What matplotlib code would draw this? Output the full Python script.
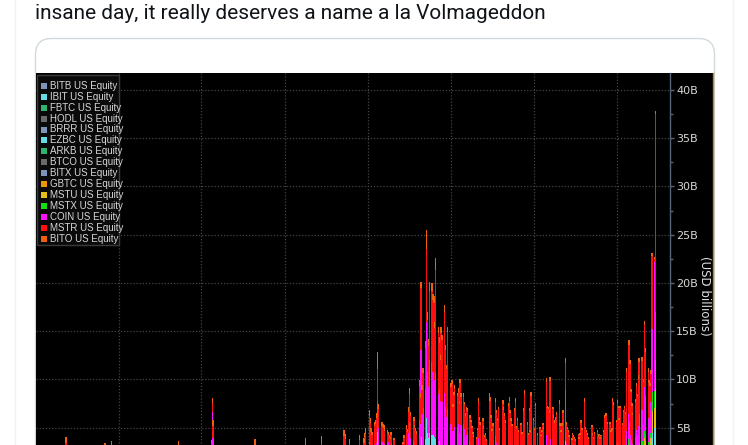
import numpy as np
import pandas as pd
import matplotlib
matplotlib.use("Agg")
import matplotlib.pyplot as plt
import matplotlib.dates as mdates
from matplotlib.patches import Rectangle, FancyBboxPatch
import datetime as dt

# ---------------- data (USD billions, daily traded value) ----------------
legend_names = ["BITB US Equity", "IBIT US Equity", "FBTC US Equity", "HODL US Equity",
                "BRRR US Equity", "EZBC US Equity", "ARKB US Equity", "BTCO US Equity",
                "BITX US Equity", "GBTC US Equity", "MSTU US Equity", "MSTX US Equity",
                "COIN US Equity", "MSTR US Equity", "BITO US Equity"]
legend_colors = ["#7f94bd", "#66dbe8", "#2fb470", "#6a6a6a",
                 "#7f94bd", "#66dbe8", "#2fb470", "#6a6a6a",
                 "#7f94bd", "#f0940c", "#e6c010", "#10e010",
                 "#ff10ff", "#ff1010", "#f0600c"]

# 2023: only the days that rise into the visible part of the chart
dates_2023 = ["2023-02-02", "2023-03-17", "2023-03-24", "2023-06-06", "2023-07-12",
              "2023-07-13", "2023-07-14", "2023-08-29", "2023-10-24", "2023-11-10",
              "2023-12-05", "2023-12-07", "2023-12-11", "2023-12-22", "2023-12-27",
              "2023-12-28", "2023-12-29"]
total_2023 = [4.0, 3.4, 3.6, 3.6, 3.7, 8.1, 5.8, 3.8, 3.9, 4.1, 4.8, 4.4, 3.8, 4.2, 3.9, 4.5, 5.0]
etf_2023 = [1.0, 0.9, 0.9, 0.6, 0.5, 0.8, 0.7, 1.5, 1.0, 1.0, 1.1, 1.0, 1.0, 0.9, 0.8, 0.9, 0.9]
coin_2023 = [1.8, 1.4, 1.5, 2.2, 1.6, 5.8, 3.2, 1.2, 1.0, 1.2, 1.8, 1.6, 1.3, 1.6, 1.5, 1.8, 2.0]
bito_2023 = [0.6, 0.5, 0.5, 0.4, 0.4, 0.5, 0.6, 0.6, 0.8, 0.8, 0.7, 0.6, 0.5, 0.5, 0.5, 0.5, 0.6]

# 2024: every trading day, Jan 2 .. Nov 12
holidays_2024 = ["2024-01-15", "2024-02-19", "2024-03-29", "2024-05-27",
                 "2024-06-19", "2024-07-04", "2024-09-02"]
total_2024 = [
    6.8, 6.0, 5.0, 4.6, 5.6, 5.8, 6.5, 12.9, 7.5, 5.6, 5.4, 5.3, 5.0, 4.8, 4.6, 4.2, 4.0, 4.6, 3.9, 3.2, 3.0,
    3.0, 2.8, 2.9, 3.1, 3.2, 3.5, 4.2, 5.3, 4.9, 7.1, 9.1, 6.6, 6.1, 5.3, 5.0, 4.7, 9.9, 8.6, 20.1, 9.4,
    11.2, 14.0, 25.5, 17.0, 14.2, 20.1, 20.0, 18.9, 18.7, 16.0, 22.6, 15.4, 14.4, 12.5, 15.4, 14.6, 17.7, 13.6, 11.5, 15.4,
    9.6, 9.9, 7.5, 8.7, 9.4, 8.6, 9.1, 7.8, 10.0, 8.6, 8.6, 7.7, 6.5, 7.1, 7.0, 6.3, 5.8, 5.2, 4.6, 4.2, 4.0, 5.0,
    8.1, 6.1, 5.6, 6.0, 5.2, 4.2, 4.5, 3.8, 8.6, 8.2, 6.3, 4.9, 5.5, 8.1, 6.8, 6.0, 7.2, 5.0, 7.9, 7.1, 6.5, 5.8,
    7.6, 8.2, 6.8, 6.0, 5.4, 7.0, 8.1, 5.2, 6.0, 4.8, 5.5, 4.6, 7.0, 8.9, 5.6, 4.5, 7.0, 4.8, 8.7,
    6.0, 5.0, 7.6, 4.5, 5.1, 4.3, 4.8, 5.5, 5.1, 10.2, 7.3, 7.2, 6.8, 10.3, 7.2, 6.3, 5.8, 6.1, 6.6, 7.9, 5.5, 4.8,
    5.5, 6.8, 12.2, 5.6, 5.1, 4.8, 4.2, 3.9, 4.5, 4.2, 4.0, 3.8, 4.4, 4.0, 4.5, 5.8, 5.0, 8.1, 5.1, 4.8, 4.5, 4.0,
    5.3, 4.5, 4.0, 4.6, 4.8, 4.2, 4.4, 4.0, 4.3, 4.8, 6.3, 6.5, 6.5, 5.6, 5.6, 4.8, 5.0, 8.1, 7.7, 5.8,
    7.9, 7.3, 6.0, 7.3, 5.5, 6.8, 7.3, 6.6, 11.2, 14.1, 12.0, 9.0, 7.6, 6.5, 8.0, 9.6, 8.5, 10.5, 12.2, 12.3, 12.3, 10.0, 16.1,
    13.3, 11.2, 9.9, 9.6, 11.0, 23.1, 22.7, 37.8]
# spot bitcoin ETFs (BITB ... GBTC, BITX) combined
etf_2024 = [
    0.3, 0.3, 0.3, 0.3, 0.3, 0.4, 0.5, 4.6, 3.1, 2.0, 2.2, 2.3, 2.0, 2.4, 2.6, 2.0, 1.9, 2.3, 1.7, 1.6, 1.4,
    1.2, 1.1, 1.1, 1.1, 1.2, 1.3, 1.5, 1.9, 1.8, 2.3, 2.6, 2.1, 2.0, 1.8, 1.7, 1.5, 3.0, 3.2, 5.0, 4.0,
    3.0, 3.8, 6.0, 4.5, 3.9, 4.5, 4.3, 4.2, 4.7, 4.0, 3.8, 3.2, 3.6, 3.1, 3.1, 2.7, 2.8, 2.5, 2.2, 2.1,
    2.8, 3.1, 2.6, 2.5, 2.4, 2.3, 2.4, 2.1, 2.5, 2.6, 2.9, 2.7, 2.2, 2.3, 2.6, 1.9, 1.7, 1.5, 1.4, 1.3, 1.2, 1.6,
    1.9, 1.6, 1.5, 1.4, 1.2, 1.0, 1.1, 0.9, 1.6, 1.5, 1.7, 1.3, 1.4, 2.0, 1.8, 1.5, 1.6, 1.2, 1.5, 1.3, 1.2, 1.2,
    1.3, 1.4, 1.5, 1.2, 1.3, 1.1, 1.4, 1.2, 1.1, 1.0, 1.0, 0.9, 1.0, 1.2, 1.3, 1.1, 1.0, 0.9, 1.1,
    1.1, 1.0, 1.0, 0.8, 1.1, 0.9, 0.9, 1.0, 1.1, 1.9, 1.6, 1.4, 1.3, 1.7, 1.5, 1.5, 1.3, 1.2, 1.3, 1.8, 1.4, 1.2,
    1.3, 1.6, 3.6, 1.8, 1.4, 1.3, 1.1, 0.9, 1.1, 1.0, 1.0, 0.9, 1.0, 1.1, 1.1, 1.3, 1.2, 1.4, 1.2, 1.3, 1.1, 1.0,
    1.0, 0.9, 0.8, 0.9, 1.0, 0.9, 0.9, 0.8, 0.9, 1.0, 1.2, 1.3, 1.4, 1.1, 1.1, 1.0, 1.0, 1.6, 1.5, 1.1,
    1.3, 1.2, 1.0, 1.1, 1.0, 1.1, 1.1, 1.0, 1.5, 2.2, 2.0, 1.6, 1.5, 1.4, 1.6, 1.8, 1.7, 1.9, 2.0, 2.2, 2.6, 2.3, 2.8,
    2.6, 2.2, 2.3, 3.5, 3.0, 4.5, 5.0, 5.5]
coin_2024 = [
    3.2, 2.8, 2.3, 2.2, 2.6, 2.6, 2.9, 3.2, 1.9, 1.5, 1.3, 1.3, 1.3, 1.0, 0.9, 0.9, 0.9, 1.0, 1.0, 0.7, 0.7,
    0.8, 0.7, 0.7, 0.8, 0.8, 0.8, 0.9, 1.2, 1.1, 2.2, 3.0, 1.8, 1.6, 1.3, 1.2, 1.1, 2.8, 2.2, 8.1, 2.4,
    4.0, 5.2, 10.0, 6.3, 5.3, 7.5, 7.5, 6.6, 6.7, 5.9, 6.9, 5.3, 5.4, 4.7, 5.3, 5.0, 5.8, 4.6, 3.9, 4.8,
    2.6, 2.8, 2.1, 2.6, 3.0, 2.8, 3.0, 2.4, 3.2, 2.7, 2.5, 2.2, 1.8, 2.0, 1.9, 1.7, 1.5, 1.3, 1.1, 1.0, 1.0, 1.2,
    2.0, 1.5, 1.4, 1.5, 1.2, 1.0, 1.1, 0.9, 1.9, 1.8, 1.5, 1.1, 1.2, 2.1, 1.6, 1.4, 1.6, 1.1, 1.7, 1.5, 1.4, 1.3,
    1.5, 1.7, 1.4, 1.2, 1.1, 1.4, 1.6, 1.0, 1.2, 0.9, 1.0, 0.9, 1.3, 1.7, 1.1, 0.9, 1.3, 0.9, 1.6,
    1.2, 1.0, 1.5, 0.9, 1.0, 0.8, 0.9, 1.1, 1.0, 2.4, 1.6, 1.5, 1.4, 2.1, 1.5, 1.3, 1.2, 1.2, 1.3, 1.9, 1.2, 1.1,
    1.2, 1.6, 5.3, 1.5, 1.2, 1.2, 1.0, 0.9, 1.0, 0.9, 0.9, 0.8, 0.9, 0.9, 1.0, 1.2, 1.1, 1.7, 1.1, 1.0, 0.9, 0.8,
    1.1, 0.9, 0.8, 0.9, 1.0, 0.8, 0.9, 0.8, 0.9, 1.0, 1.3, 1.4, 1.4, 1.1, 1.2, 1.0, 1.1, 1.7, 1.6, 1.2,
    1.5, 1.4, 1.1, 1.4, 1.0, 1.2, 1.3, 1.2, 2.0, 2.6, 2.2, 1.7, 1.4, 1.2, 1.5, 2.0, 1.6, 2.1, 3.0, 3.2, 3.3, 2.0, 4.5,
    4.0, 3.0, 2.5, 2.8, 3.2, 6.5, 13.4, 5.0]
bito_2024 = [
    0.6, 0.5, 0.4, 0.3, 0.4, 0.4, 0.5, 1.8, 0.6, 0.4, 0.3, 0.3, 0.3, 0.3, 0.3, 0.3, 0.2, 0.3, 0.2, 0.2, 0.2,
    0.2, 0.2, 0.2, 0.2, 0.2, 0.2, 0.3, 0.4, 0.3, 0.5, 0.6, 0.4, 0.4, 0.3, 0.3, 0.3, 0.6, 0.5, 0.6, 0.5,
    0.5, 0.7, 2.0, 0.8, 0.7, 0.9, 0.8, 0.7, 0.8, 0.7, 1.3, 0.6, 0.6, 0.5, 0.6, 0.5, 0.7, 0.5, 0.4, 0.5,
    0.4, 0.4, 0.3, 0.3, 0.4, 0.3, 0.4, 0.3, 0.4, 0.4, 0.4, 0.3, 0.3, 0.3, 0.3, 0.3, 0.2, 0.2, 0.2, 0.2, 0.2, 0.2,
    0.4, 0.3, 0.3, 0.3, 0.2, 0.2, 0.2, 0.2, 0.4, 0.4, 0.3, 0.2, 0.3, 0.4, 0.3, 0.3, 0.3, 0.2, 0.4, 0.3, 0.3, 0.3,
    0.3, 0.4, 0.3, 0.3, 0.2, 0.3, 0.4, 0.2, 0.3, 0.2, 0.2, 0.2, 0.3, 0.4, 0.3, 0.2, 0.3, 0.2, 0.4,
    0.3, 0.2, 0.3, 0.2, 0.2, 0.2, 0.2, 0.2, 0.2, 0.5, 0.3, 0.3, 0.3, 0.5, 0.3, 0.3, 0.3, 0.3, 0.3, 0.4, 0.3, 0.2,
    0.3, 0.3, 0.5, 0.3, 0.2, 0.2, 0.2, 0.2, 0.2, 0.2, 0.2, 0.2, 0.2, 0.2, 0.2, 0.3, 0.2, 0.4, 0.2, 0.2, 0.2, 0.2,
    0.2, 0.2, 0.2, 0.2, 0.2, 0.2, 0.2, 0.2, 0.2, 0.2, 0.3, 0.3, 0.3, 0.2, 0.2, 0.2, 0.2, 0.4, 0.3, 0.2,
    0.3, 0.3, 0.2, 0.3, 0.2, 0.2, 0.3, 0.2, 0.4, 0.5, 0.4, 0.3, 0.3, 0.2, 0.3, 0.3, 0.3, 0.4, 0.4, 0.4, 0.4, 0.3, 0.5,
    0.5, 0.4, 0.3, 0.3, 0.4, 0.3, 0.2, 0.3]
# leveraged MSTR ETFs, Oct 1 .. Nov 12 (negligible before)
mstu_oct_nov = [0.4, 0.4, 0.3, 0.4, 0.3, 0.4, 0.4, 0.3, 0.7, 0.9, 0.8, 0.6, 0.5, 0.4, 0.5, 0.6, 0.5, 0.7,
                0.8, 0.8, 0.8, 0.6, 1.1, 1.0, 0.8, 0.7, 0.9, 0.9, 2.2, 2.0, 3.5]
mstx_oct_nov = [0.3, 0.3, 0.2, 0.3, 0.2, 0.3, 0.3, 0.2, 0.5, 0.7, 0.6, 0.4, 0.3, 0.3, 0.4, 0.4, 0.4, 0.5,
                0.6, 0.6, 0.6, 0.4, 0.8, 0.7, 0.6, 0.5, 0.6, 0.6, 2.0, 1.8, 3.0]

y_ticks = [5, 10, 15, 20, 25, 30, 35, 40]
tweet_text = "insane day, it really deserves a name a la Volmageddon"

# ---------------- assemble ----------------
days_2024 = pd.bdate_range("2024-01-02", "2024-11-12", freq="C", holidays=holidays_2024)
n24 = len(days_2024)
assert n24 == len(total_2024) == len(etf_2024) == len(coin_2024) == len(bito_2024), n24
n_pre = n24 - len(mstu_oct_nov)

dates = list(pd.to_datetime(dates_2023)) + list(days_2024)
xs = mdates.date2num(dates)
etf = np.array(etf_2023 + etf_2024)
mstu = np.concatenate([np.zeros(len(dates_2023) + n_pre), mstu_oct_nov])
mstx = np.concatenate([np.zeros(len(dates_2023) + n_pre), mstx_oct_nov])
coin = np.array(coin_2023 + coin_2024)
bito = np.array(bito_2023 + bito_2024)
total = np.array(total_2023 + total_2024)
mstr = total - etf - mstu - mstx - coin - bito

W, H = 748, 445
fig = plt.figure(figsize=(W / 100, H / 100), dpi=100)
fig.patch.set_facecolor("white")

# background: tweet text, card, black image panel
bg = fig.add_axes([0, 0, 1, 1], zorder=0)
bg.set_xlim(0, W); bg.set_ylim(H, 0); bg.axis("off")
bg.plot([15.5, 15.5], [0, H], color="#eff3f4", lw=1)
bg.plot([733.5, 733.5], [0, H], color="#eff3f4", lw=1)
bg.add_patch(FancyBboxPatch((35.5, 38.5), 679, 460, boxstyle="round,pad=0,rounding_size=16",
                            facecolor="white", edgecolor="#cfd9de", lw=1))
bg.add_patch(Rectangle((36, 73), 677.5, H - 73, facecolor="black", edgecolor="none"))
bg.text(35, 19, tweet_text, fontsize=15.0, family="Roboto", color="#0f1419",
        ha="left", va="baseline")

# chart axes (bottom part is cut off by the screenshot)
ax_left, ax_right, ax_top, ax_bottom = 36, 670, 73, 476
ax = fig.add_axes([ax_left / W, (H - ax_bottom) / H, (ax_right - ax_left) / W,
                   (ax_bottom - ax_top) / H], zorder=1)
ax.set_facecolor("black")
ax.set_xlim(mdates.date2num(dt.datetime(2022, 12, 31)), mdates.date2num(dt.datetime(2024, 11, 28)))
ax.set_ylim(0, 41.76)

stack = [(etf, legend_colors[1]), (mstu, legend_colors[10]), (mstx, legend_colors[11]),
         (coin, legend_colors[12]), (mstr, legend_colors[13]), (bito, legend_colors[14])]
bottom = np.zeros(len(xs))
for vals, col in stack:
    ax.bar(xs, vals, bottom=bottom, width=1.5, color=col, linewidth=0, zorder=2,
           antialiased=False)
    bottom = bottom + vals

quarters = [dt.datetime(y, m, 1) for y, m in [(2023, 4), (2023, 7), (2023, 10), (2024, 1),
                                               (2024, 4), (2024, 7), (2024, 10)]]
ax.set_xticks(mdates.date2num(quarters))
ax.set_xticklabels([])
ax.tick_params(axis="x", length=0)
ax.set_yticks(y_ticks)
ax.set_yticklabels([f"{v}B" for v in y_ticks])
ax.set_yticks(np.arange(2.5, 41, 5), minor=True)
ax.yaxis.tick_right()
ax.tick_params(axis="y", which="major", direction="out", length=3, width=1,
               color="#56667a", labelcolor="#d8d8d8", labelsize=8, pad=1.5)
ax.tick_params(axis="y", which="minor", direction="out", length=2, width=1, color="#56667a")
ax.grid(True, which="major", color="#454545", lw=0.9, linestyle=(0, (1, 1.5)))
ax.set_axisbelow(True)
for s in ["left", "top", "bottom"]:
    ax.spines[s].set_visible(False)
ax.spines["right"].set_color("#56667a")
ax.spines["right"].set_linewidth(1)
ax.text((705 - ax_left) / (ax_right - ax_left), (ax_bottom - 296) / (ax_bottom - ax_top),
        "(USD billions)", transform=ax.transAxes, rotation=270, ha="center", va="center",
        fontsize=8.5, color="#e0e0e0")

# overlay: legend and panel edge
ov = fig.add_axes([0, 0, 1, 1], zorder=3)
ov.set_xlim(0, W); ov.set_ylim(H, 0); ov.axis("off"); ov.patch.set_visible(False)
ov.plot([713, 713], [73, H], color="#c8802a", lw=1)
ov.add_patch(Rectangle((37, 75), 82, 170, facecolor="#0a0a0a", edgecolor="#3a3a3a", lw=1))
for i, (name, col) in enumerate(zip(legend_names, legend_colors)):
    yy = 85.7 + i * 10.95
    ov.add_patch(Rectangle((41.5, yy - 3), 6, 6, facecolor=col, edgecolor="none"))
    ov.text(50, yy, name, fontsize=7.0, family="Liberation Sans", color="#d8d8d8",
            ha="left", va="center")

fig.savefig("out.png", dpi=100, facecolor="white")
